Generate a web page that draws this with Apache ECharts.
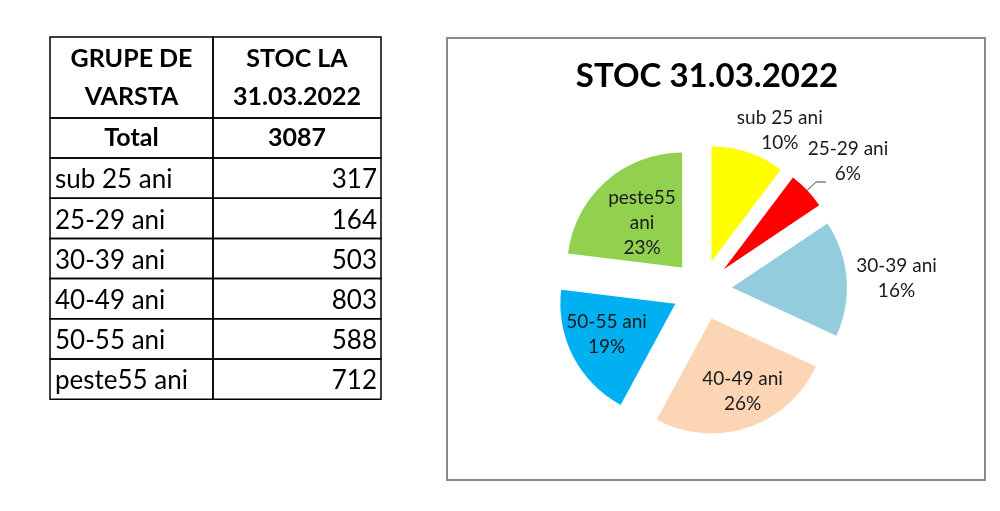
<!DOCTYPE html>
<html>
<head>
<meta charset="utf-8">
<script src="https://cdn.jsdelivr.net/npm/echarts@6/dist/echarts.min.js"></script>
<style>
html, body { margin: 0; padding: 0; background: #fff; }
#main { width: 1000px; height: 511px; }
</style>
</head>
<body>
<div id="main"></div>
<script>
// data
var groups = ['sub 25 ani', '25-29 ani', '30-39 ani', '40-49 ani', '50-55 ani', 'peste55 ani'];
var stock = [317, 164, 503, 803, 588, 712];
var sliceNames = ['sub 25 ani', '25-29 ani', '30-39 ani', '40-49 ani', '50-55 ani', 'peste55\nani'];
var headers = ['GRUPE DE\nVARSTA', 'STOC LA\n31.03.2022'];
var totalLabel = 'Total';
var chartTitle = 'STOC 31.03.2022';

var colors = ['#ffff00', '#ff0000', '#93cddd', '#fcd5b5', '#00b0f0', '#92d050'];
var FONT = 'Lato, "Open Sans", sans-serif';

// which labels sit outside the slices, and which one keeps a leader line
var outsideLabel = [true, true, true, false, false, false];
var showLine = [false, true, false, false, false, false];
var labelNudge = [[13, -11], [17, -21], [23, 1], [12, 16], [-15, 3], [0, 1]];

var total = stock.reduce(function (a, b) { return a + b; }, 0);

// ---- table (graphic) ----
var tX = [50, 213, 381];
var tY = [37, 118, 158];
var rowH = 40.2;
for (var i = 0; i < groups.length; i++) {
    tY.push(158 + rowH * (i + 1));
}
var table = [];
function cell(x0, x1, y0, y1) {
    table.push({
        type: 'rect',
        shape: {x: x0, y: y0, width: x1 - x0, height: y1 - y0},
        style: {fill: 'none', stroke: '#000', lineWidth: 1.5}
    });
}
function txt(s, x, y, align, bold) {
    table.push({
        type: 'text',
        x: x, y: y,
        style: {
            text: s, fill: '#000', align: align, verticalAlign: 'middle',
            font: (bold ? 'bold 25px ' : '26px ') + FONT, lineHeight: 38
        }
    });
}
for (var r = 0; r < tY.length - 1; r++) {
    cell(tX[0], tX[1], tY[r], tY[r + 1]);
    cell(tX[1], tX[2], tY[r], tY[r + 1]);
}
txt(headers[0], (tX[0] + tX[1]) / 2, (tY[0] + tY[1]) / 2, 'center', true);
txt(headers[1], (tX[1] + tX[2]) / 2, (tY[0] + tY[1]) / 2, 'center', true);
txt(totalLabel, (tX[0] + tX[1]) / 2, (tY[1] + tY[2]) / 2, 'center', true);
txt(String(total), (tX[1] + tX[2]) / 2, (tY[1] + tY[2]) / 2, 'center', true);
for (var k = 0; k < groups.length; k++) {
    var cy = (tY[k + 2] + tY[k + 3]) / 2 + 2;
    txt(groups[k], tX[0] + 5, cy, 'left', false);
    txt(String(stock[k]), tX[2] - 4, cy, 'right', false);
}

// chart frame
table.push({
    type: 'rect',
    shape: {x: 447, y: 38, width: 538, height: 442},
    style: {fill: 'none', stroke: '#8a8a8a', lineWidth: 2},
    z: -1
});

var pieData = stock.map(function (v, i) {
    return {
        name: sliceNames[i],
        value: v,
        selected: true,
        itemStyle: {color: colors[i]},
        label: {position: outsideLabel[i] ? 'outside' : 'inside'},
        labelLine: {show: showLine[i], length: 12, length2: 10}
    };
});

var option = {
    backgroundColor: '#fff',
    animation: false,
    title: {
        text: chartTitle,
        left: 702,
        top: 55,
        textAlign: 'center',
        textStyle: {fontFamily: FONT, fontWeight: 'bold', fontSize: 33, color: '#000'}
    },
    graphic: table,
    series: [{
        type: 'pie',
        center: [702, 290],
        radius: 115,
        startAngle: 90,
        clockwise: true,
        percentPrecision: 0,
        selectedMode: 'multiple',
        selectedOffset: 30,
        avoidLabelOverlap: false,
        emphasis: {disabled: true},
        label: {
            formatter: '{b}\n{d}%',
            fontFamily: FONT,
            fontSize: 19,
            lineHeight: 25,
            color: '#1a1a1a',
            align: 'center'
        },
        labelLine: {lineStyle: {color: '#404040', width: 1}},
        labelLayout: function (p) {
            var n = labelNudge[p.dataIndex];
            return {dx: n[0], dy: n[1], align: 'center'};
        },
        data: pieData
    }]
};

var chart = echarts.init(document.getElementById('main'));
chart.setOption(option);
</script>
</body>
</html>
